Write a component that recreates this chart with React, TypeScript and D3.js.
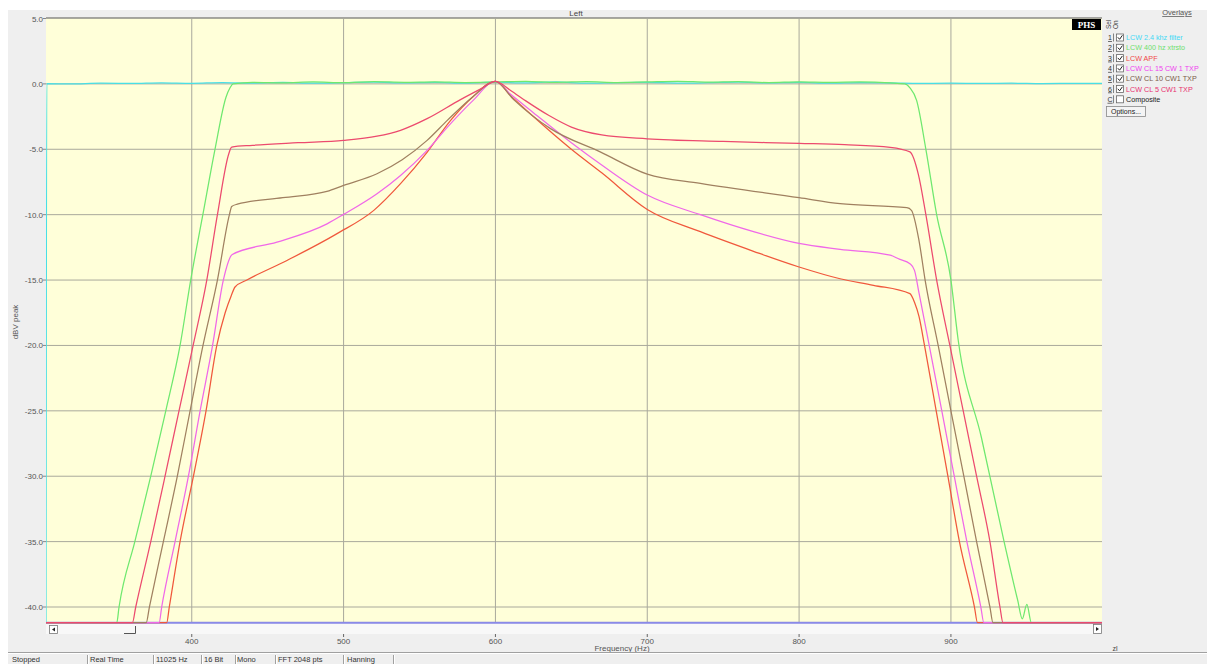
import { useMemo } from 'react';
import * as d3 from 'd3';

// Frequency axis ticks and level ticks
const freqTicks = [400, 500, 600, 700, 800, 900];
const levelTicks = [5, 0, -5, -10, -15, -20, -25, -30, -35, -40];

// 1: LCW 2.4 khz filter (cyan)
const cyanFreq = [304, 304.5, 320, 340, 360, 380, 400, 420, 440, 460, 480, 500, 520, 540, 560, 580, 600, 620, 640, 660, 680, 700, 720, 740, 760, 780, 800, 820, 840, 860, 880, 900, 920, 940, 960, 980, 999.5];
const cyanDb = [-41.2, 0.02, 0.0, 0.05, 0.03, 0.08, 0.04, 0.1, 0.06, 0.12, 0.05, 0.09, 0.14, 0.07, 0.11, 0.06, 0.13, 0.08, 0.15, 0.05, 0.1, 0.12, 0.06, 0.09, 0.14, 0.07, 0.11, 0.05, 0.1, 0.08, 0.04, 0.06, 0.03, 0.05, 0.02, 0.04, 0.03];

// 2: LCW 400 hz xtrsto (green)
const greenFreq = [304, 350.6, 352.1, 362.5, 373.0, 382.9, 392.3, 399.3, 407.3, 415.3, 422.6, 425.2, 427.2, 440, 460, 480, 500, 520, 540, 560, 580, 600, 620, 640, 660, 680, 700, 720, 740, 760, 780, 800, 820, 840, 860, 869.7, 873, 877.4, 883.5, 890.6, 900, 904.8, 920, 935, 944, 947, 950, 953, 999.5];
const greenDb = [-41.2, -41.2, -40, -35, -30, -25, -20, -15, -10, -5, -1, -0.3, 0, 0.12, 0.08, 0.15, 0.1, 0.18, 0.12, 0.16, 0.1, 0.14, 0.2, 0.12, 0.17, 0.1, 0.15, 0.2, 0.13, 0.18, 0.1, 0.16, 0.12, 0.15, 0.08, 0, -0.3, -1.26, -5, -10, -15, -19.6, -27, -35, -39.5, -40.9, -39.8, -41.2, -41.2];

// 3: LCW APF (red)
const apfFreq = [304, 383.5, 385.2, 392.3, 401.1, 409.4, 416.5, 422, 426, 428.5, 436.3, 462.7, 495.7, 519.9, 537.5, 555.1, 570.5, 585, 600, 610, 625, 650, 670, 700, 735, 770, 800, 827, 849, 873, 876, 879, 882.6, 890.3, 898, 905.6, 915.5, 917.5, 999.5];
const apfDb = [-41.2, -41.2, -40, -35, -30, -25, -20, -17.5, -16.2, -15.53, -15.0, -13.5, -11.45, -9.67, -7.63, -5.21, -2.79, -1.0, 0.2, -0.9, -2.5, -5.0, -6.8, -9.6, -11.3, -12.8, -14.0, -14.9, -15.4, -16.04, -16.7, -17.8, -20, -25, -30, -35, -40, -41.2, -41.2];

// 4: LCW CL 15 CW 1 TXP (magenta)
const cl15Freq = [304, 378.5, 380.2, 389.0, 397.8, 405.5, 413.7, 420.8, 426.7, 456.1, 489.1, 500, 522, 537.5, 555, 570.5, 585, 600, 610, 625, 650, 670, 700, 735, 770, 800, 827, 860, 866, 873, 876, 879, 885.7, 894, 902.2, 910.5, 919.7, 921.7, 999.5];
const cl15Db = [-41.2, -41.2, -40, -35, -30, -25, -20, -15, -13.04, -12.1, -10.7, -9.98, -8.4, -7.0, -5.08, -3.04, -1.3, 0.2, -0.8, -2.2, -4.5, -6.2, -8.5, -10.0, -11.3, -12.2, -12.65, -13.1, -13.4, -13.75, -14.26, -16, -20, -25, -30, -35, -40, -41.2, -41.2];

// 5: LCW CL 10 CW1 TXP (brown)
const cl10Freq = [304, 370.0, 372.1, 381.3, 390.5, 398.9, 407.4, 416.9, 424.8, 426.3, 430, 460, 489, 500, 522, 538.6, 555, 568.3, 585, 600, 612, 636, 669, 700, 735, 800, 827, 871, 874, 879, 883, 891.6, 900, 908.5, 916.9, 925.7, 927.7, 999.5];
const cl10Db = [-41.2, -41.2, -40, -35, -30, -25, -20, -15, -10, -9.37, -9.2, -8.7, -8.22, -7.76, -6.87, -5.8, -4.32, -2.79, -1.0, 0.2, -1.2, -3.4, -5.2, -6.9, -7.6, -8.7, -9.16, -9.47, -9.67, -12, -15, -20, -25, -30, -35, -40, -41.2, -41.2];

// 6: LCW CL 5 CW1 TXP (crimson)
const cl5Freq = [304, 360.9, 363.1, 373.0, 382.4, 391.6, 400.9, 409.9, 416.9, 424.5, 426.3, 440, 470, 500, 522, 537.5, 555, 577, 590, 600, 610, 620, 635, 650, 670, 700, 750, 800, 830, 860, 873, 878.5, 883.5, 890.6, 899.3, 908.1, 916.9, 925.7, 932.3, 934.3, 999.5];
const cl5Db = [-41.2, -41.2, -40, -35, -30, -25, -20, -15, -10, -5.3, -4.83, -4.7, -4.5, -4.32, -4.0, -3.55, -2.66, -1.2, -0.4, 0.2, -0.5, -1.3, -2.4, -3.3, -3.9, -4.2, -4.4, -4.55, -4.65, -4.85, -5.2, -6.9, -10, -15, -20, -25, -30, -35, -40, -41.2, -41.2];

const overlayNames = ['LCW 2.4 khz filter', 'LCW 400 hz xtrsto', 'LCW APF', 'LCW CL 15 CW 1 TXP', 'LCW CL 10 CW1 TXP', 'LCW CL 5 CW1 TXP'];
const overlayText = ['#3fd9f5', '#6ee06e', '#f04848', '#f040f0', '#7a5a4a', '#e83070'];
const lineColors = ['#48dfe6', '#6ee86e', '#f0583c', '#f068e8', '#a08060', '#ec4a6e'];

const statusItems = ['Stopped', 'Real Time', '11025 Hz', '16 Bit', 'Mono', 'FFT 2048 pts', 'Hanning'];
const statusX = [12, 90, 156, 204, 237, 278, 347];
const statusSep = [87, 153, 201, 235, 275, 343, 393];

const FONT = '"Liberation Sans", Arial, sans-serif';

export default function App() {
  const left = 46, right = 1102, top = 18, bottom = 623;

  const x = d3.scaleLinear().domain([304, 999.5]).range([left, right]);
  const y = d3.scaleLinear().domain([5, -41.2]).range([18.5, 622.7]);

  const series = useMemo(() => {
    const pairs: [number[], number[]][] = [
      [cyanFreq, cyanDb], [greenFreq, greenDb], [apfFreq, apfDb],
      [cl15Freq, cl15Db], [cl10Freq, cl10Db], [cl5Freq, cl5Db],
    ];
    return pairs.map(([f, v]) => f.map((d, i) => [d, v[i]] as [number, number]));
  }, []);

  const line = d3.line<[number, number]>()
    .x(d => x(d[0]))
    .y(d => y(d[1]))
    .curve(d3.curveMonotoneX);

  const rowY = (i: number) => 37.5 + i * 10.3;

  return (
    <svg width={1207} height={664} style={{ position: 'absolute', left: 0, top: 0, display: 'block' }} fontFamily={FONT}>
      <rect x={0} y={0} width={1207} height={664} fill="#ffffff" />
      <rect x={8} y={10} width={1199} height={654} fill="#efefef" />

      {/* title */}
      <text x={576} y={16} fontSize={8} textAnchor="middle" fill="#444">Left</text>

      {/* plot area */}
      <defs>
        <clipPath id="plotClip">
          <rect x={left} y={top} width={right - left} height={bottom - top + 1} />
        </clipPath>
      </defs>
      <rect x={left} y={top} width={right - left} height={bottom - top} fill="#ffffd9" />
      <line x1={left} x2={right} y1={top} y2={top} stroke="#8a8a86" strokeWidth={1.5} />

      {levelTicks.map(t => (
        <g key={t}>
          <line x1={left} x2={right} y1={y(t)} y2={y(t)} stroke="#a9a99c" strokeWidth={1} />
          <line x1={left - 3} x2={left} y1={y(t)} y2={y(t)} stroke="#888" />
          <text x={43} y={y(t) + 3} fontSize={8} textAnchor="end" fill="#555">{t.toFixed(1)}</text>
        </g>
      ))}
      {freqTicks.map(t => (
        <line key={t} x1={x(t)} x2={x(t)} y1={top} y2={bottom} stroke="#a9a99c" strokeWidth={1} />
      ))}

      {/* floor line */}
      <line x1={left} x2={right} y1={622.7} y2={622.7} stroke="#8a8ae8" strokeWidth={2} />

      <g clipPath="url(#plotClip)" fill="none">
        {series.map((s, i) => (
          <path key={i} d={line(s) || ''} stroke={lineColors[i]} strokeWidth={1.25} strokeLinejoin="round" />
        ))}
      </g>

      <text transform="translate(18,322) rotate(-90)" fontSize={8} textAnchor="middle" fill="#555">dBV peak</text>

      {/* scroll row */}
      <rect x={left} y={624} width={right - left} height={10} fill="#f8f8f8" />
      <rect x={49.5} y={625.5} width={8} height={8} fill="#fff" stroke="#777" strokeWidth={0.8} />
      <path d="M55,627.5 L52,629.5 L55,631.5 Z" fill="#222" />
      <path d="M135.5,626 L135.5,633.5 L124,633.5" fill="none" stroke="#555" strokeWidth={1} />
      <rect x={1093.5} y={624.5} width={8} height={9} fill="#fff" stroke="#777" strokeWidth={0.8} />
      <path d="M1096,627 L1099,629 L1096,631 Z" fill="#222" />

      {freqTicks.map(t => (
        <g key={t}>
          <line x1={x(t)} x2={x(t)} y1={634} y2={637} stroke="#666" />
          <text x={x(t)} y={644} fontSize={8} textAnchor="middle" fill="#555">{t}</text>
        </g>
      ))}
      <text x={622} y={651} fontSize={8} textAnchor="middle" fill="#555">Frequency (Hz)</text>
      <text x={1115} y={651} fontSize={7} textAnchor="middle" fill="#444" textDecoration="underline">zl</text>

      {/* status bar */}
      <line x1={8} x2={1207} y1={652.5} y2={652.5} stroke="#a0a0a0" />
      <line x1={8} x2={1207} y1={653.5} y2={653.5} stroke="#ffffff" />
      {statusItems.map((s, i) => (
        <g key={s}>
          <text x={statusX[i]} y={662} fontSize={7.5} fill="#333">{s}</text>
          <line x1={statusSep[i] + 0.5} x2={statusSep[i] + 0.5} y1={655} y2={664} stroke="#a0a0a0" />
          <line x1={statusSep[i] + 1.5} x2={statusSep[i] + 1.5} y1={655} y2={664} stroke="#ffffff" />
        </g>
      ))}

      {/* right overlay panel */}
      <text x={1177} y={15} fontSize={7.5} textAnchor="middle" fill="#555" textDecoration="underline">Overlays</text>
      <rect x={1072} y={19} width={29} height={11} fill="#000" />
      <text x={1086.5} y={28} fontSize={9} textAnchor="middle" fill="#fff" fontWeight="bold" fontFamily='"Liberation Serif", "DejaVu Serif", serif'>PHS</text>
      <text transform="translate(1111,29) rotate(-90)" fontSize={6.5} fill="#444">Sel</text>
      <text transform="translate(1118,29) rotate(-90)" fontSize={6.5} fill="#444">On</text>

      {[...overlayNames, 'Composite'].map((name, i) => {
        const cy = rowY(i);
        const label = i < 6 ? String(i + 1) : 'C';
        const checked = i < 6;
        return (
          <g key={name}>
            <text x={1110} y={cy + 2.5} fontSize={7} textAnchor="middle" fill="#333" textDecoration="underline">{label}</text>
            <line x1={1113.5} x2={1113.5} y1={cy - 4} y2={cy + 4} stroke="#666" strokeWidth={0.8} />
            <rect x={1116.5} y={cy - 3.5} width={7} height={7} fill="#fff" stroke="#666" strokeWidth={0.8} />
            {checked && <path d={`M1117.8,${cy - 0.2} L1119.6,${cy + 1.8} L1122.4,${cy - 2.2}`} fill="none" stroke="#222" strokeWidth={1} />}
            <text x={1126} y={cy + 2.6} fontSize={7.2} fill={i < 6 ? overlayText[i] : '#222'}>{name}</text>
          </g>
        );
      })}
      <rect x={1106.5} y={106.5} width={39} height={10} fill="#f4f4f4" stroke="#888" strokeWidth={0.8} />
      <text x={1126} y={114} fontSize={7} textAnchor="middle" fill="#222">Options...</text>
    </svg>
  );
}
